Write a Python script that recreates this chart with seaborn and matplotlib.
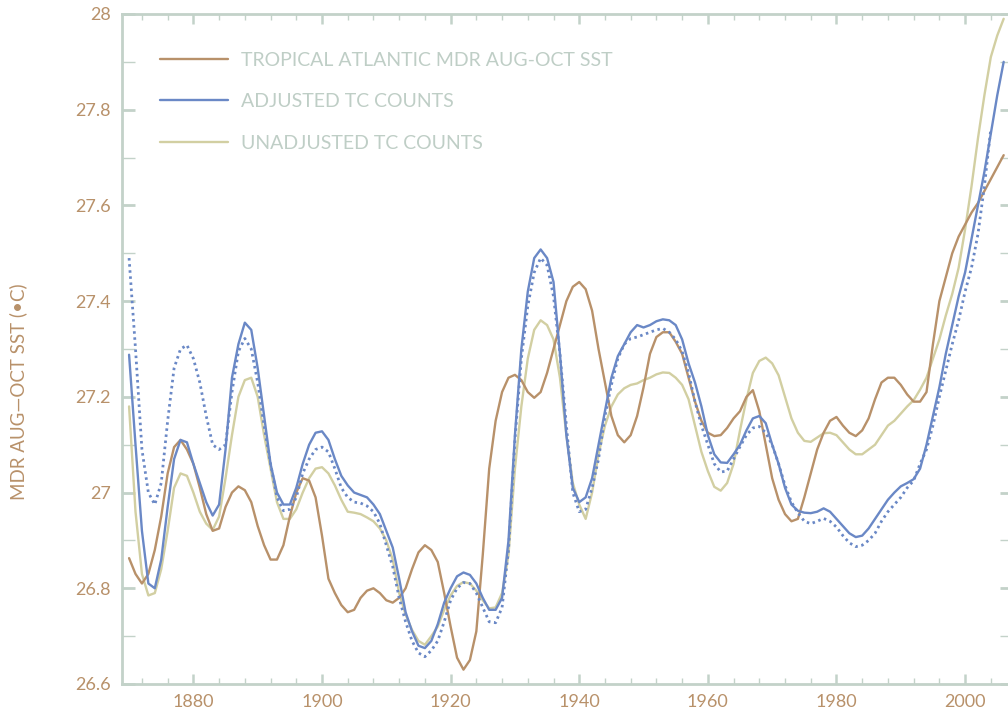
import matplotlib
matplotlib.use("Agg")
import matplotlib.pyplot as plt
import seaborn as sns
from matplotlib.ticker import MultipleLocator, FuncFormatter
from matplotlib.lines import Line2D

# ---------------- data ----------------
years = list(range(1870, 2007))
years_dotted = list(range(1870, 2005))

sst = [
    26.863, 26.83, 26.81, 26.83, 26.88, 26.95, 27.04, 27.095, 27.11, 27.09,
    27.06, 27.01, 26.955, 26.92, 26.925, 26.97, 27.00, 27.013, 27.005, 26.98,
    26.93, 26.89, 26.86, 26.86, 26.89, 26.95, 27.00, 27.03, 27.025, 26.99,
    26.91, 26.82, 26.79, 26.765, 26.75, 26.755, 26.78, 26.795, 26.80, 26.79,
    26.775, 26.77, 26.78, 26.80, 26.84, 26.875, 26.89, 26.88, 26.855, 26.79,
    26.72, 26.655, 26.63, 26.65, 26.71, 26.87, 27.05, 27.15, 27.21, 27.24,
    27.246, 27.235, 27.21, 27.198, 27.21, 27.25, 27.30, 27.35, 27.40, 27.43,
    27.44, 27.425, 27.38, 27.30, 27.23, 27.16, 27.12, 27.105, 27.12, 27.16,
    27.22, 27.29, 27.325, 27.335, 27.335, 27.315, 27.29, 27.24, 27.19, 27.15,
    27.125, 27.118, 27.12, 27.135, 27.155, 27.17, 27.20, 27.214, 27.17, 27.10,
    27.03, 26.985, 26.955, 26.94, 26.945, 26.99, 27.04, 27.09, 27.125, 27.15,
    27.158, 27.14, 27.125, 27.118, 27.13, 27.155, 27.195, 27.23, 27.24, 27.24,
    27.225, 27.205, 27.19, 27.19, 27.21, 27.31, 27.40, 27.45, 27.50, 27.535,
    27.56, 27.585, 27.605, 27.63, 27.655, 27.68, 27.705,
]

adjusted = [
    27.288, 27.10, 26.92, 26.81, 26.80, 26.86, 26.97, 27.07, 27.11, 27.105,
    27.06, 27.02, 26.98, 26.952, 26.975, 27.09, 27.24, 27.31, 27.355, 27.34,
    27.26, 27.16, 27.06, 27.00, 26.975, 26.975, 27.01, 27.06, 27.10, 27.125,
    27.128, 27.11, 27.07, 27.035, 27.015, 27.00, 26.995, 26.99, 26.975, 26.955,
    26.92, 26.885, 26.82, 26.75, 26.71, 26.68, 26.675, 26.69, 26.725, 26.77,
    26.80, 26.825, 26.833, 26.828, 26.81, 26.78, 26.755, 26.755, 26.78, 26.90,
    27.12, 27.30, 27.42, 27.49, 27.508, 27.49, 27.44, 27.29, 27.12, 27.01,
    26.98, 26.99, 27.03, 27.10, 27.17, 27.24, 27.285, 27.31, 27.335, 27.35,
    27.345, 27.35, 27.358, 27.362, 27.36, 27.35, 27.32, 27.27, 27.23, 27.18,
    27.12, 27.08, 27.063, 27.062, 27.08, 27.10, 27.13, 27.155, 27.16, 27.145,
    27.10, 27.06, 27.01, 26.975, 26.962, 26.958, 26.957, 26.96, 26.967, 26.96,
    26.945, 26.93, 26.915, 26.907, 26.91, 26.925, 26.945, 26.965, 26.985, 27.00,
    27.013, 27.02, 27.028, 27.05, 27.10, 27.16, 27.22, 27.29, 27.35, 27.41,
    27.46, 27.53, 27.60, 27.67, 27.75, 27.83, 27.90,
]

adjusted_alt = [
    27.49, 27.30, 27.09, 27.00, 26.975, 27.02, 27.15, 27.26, 27.30, 27.308,
    27.28, 27.23, 27.16, 27.10, 27.09, 27.10, 27.21, 27.295, 27.322, 27.30,
    27.23, 27.14, 27.06, 26.99, 26.962, 26.965, 26.99, 27.04, 27.07, 27.09,
    27.095, 27.085, 27.05, 27.01, 26.99, 26.98, 26.978, 26.972, 26.96, 26.935,
    26.89, 26.845, 26.78, 26.73, 26.69, 26.665, 26.657, 26.67, 26.69, 26.73,
    26.775, 26.80, 26.812, 26.81, 26.79, 26.76, 26.73, 26.728, 26.76, 26.88,
    27.11, 27.28, 27.39, 27.46, 27.49, 27.475, 27.41, 27.29, 27.14, 27.00,
    26.96, 26.965, 27.01, 27.07, 27.16, 27.225, 27.28, 27.31, 27.322, 27.325,
    27.33, 27.335, 27.34, 27.343, 27.335, 27.32, 27.295, 27.25, 27.19, 27.14,
    27.10, 27.06, 27.043, 27.045, 27.07, 27.096, 27.12, 27.135, 27.138, 27.125,
    27.10, 27.06, 27.015, 26.98, 26.958, 26.94, 26.935, 26.94, 26.946, 26.94,
    26.928, 26.91, 26.895, 26.887, 26.89, 26.90, 26.915, 26.94, 26.96, 26.975,
    26.99, 27.01, 27.025, 27.06, 27.09, 27.14, 27.20, 27.255, 27.31, 27.36,
    27.42, 27.47, 27.54, 27.64, 27.76,
]

unadjusted = [
    27.18, 26.96, 26.83, 26.785, 26.79, 26.84, 26.92, 27.01, 27.04, 27.035,
    27.00, 26.96, 26.935, 26.922, 26.95, 27.03, 27.12, 27.20, 27.235, 27.24,
    27.20, 27.12, 27.05, 26.98, 26.945, 26.945, 26.965, 27.00, 27.03, 27.05,
    27.053, 27.04, 27.015, 26.985, 26.96, 26.958, 26.955, 26.948, 26.94, 26.925,
    26.90, 26.86, 26.79, 26.745, 26.713, 26.69, 26.682, 26.70, 26.72, 26.755,
    26.785, 26.805, 26.813, 26.81, 26.795, 26.775, 26.758, 26.76, 26.79, 26.87,
    27.05, 27.18, 27.28, 27.34, 27.36, 27.35, 27.32, 27.24, 27.12, 27.02,
    26.975, 26.945, 27.00, 27.08, 27.14, 27.18, 27.205, 27.218, 27.225, 27.228,
    27.235, 27.24, 27.247, 27.251, 27.25, 27.24, 27.225, 27.195, 27.14, 27.085,
    27.045, 27.012, 27.004, 27.02, 27.06, 27.13, 27.195, 27.25, 27.275, 27.282,
    27.27, 27.245, 27.20, 27.155, 27.125, 27.108, 27.106, 27.115, 27.124, 27.125,
    27.12, 27.105, 27.09, 27.08, 27.08, 27.09, 27.10, 27.12, 27.14, 27.15,
    27.165, 27.18, 27.193, 27.215, 27.24, 27.28, 27.32, 27.37, 27.415, 27.47,
    27.55, 27.64, 27.74, 27.83, 27.91, 27.955, 27.99,
]

series_labels = ["TROPICAL ATLANTIC MDR AUG-OCT SST",
                 "ADJUSTED TC COUNTS",
                 "UNADJUSTED TC COUNTS"]
y_label = "MDR AUG\u2014OCT SST (\u2022C)"
y_ticks = [26.6, 26.8, 27.0, 27.2, 27.4, 27.6, 27.8, 28.0]
x_ticks = [1880, 1900, 1920, 1940, 1960, 1980, 2000]

# ---------------- style ----------------
BROWN = "#b8916a"
BLUE = "#6a88c6"
YELLOW = "#d2cfa2"
AXISC = "#c3d2c9"
LEGTXT = "#bfcec6"

sns.set_style("white")
plt.rcParams["font.family"] = ["Lato", "DejaVu Sans"]

fig = plt.figure(figsize=(10.08, 7.14), dpi=100)
# right edge slightly beyond the canvas (as in the reference)
ax = fig.add_axes([122 / 1008, 30 / 714, 891 / 1008, 670 / 714])

lw = 1.7
common = dict(ax=ax, legend=False, solid_joinstyle="round",
              solid_capstyle="round")
sns.lineplot(x=years, y=unadjusted, color=YELLOW, lw=lw, **common)
sns.lineplot(x=years, y=sst, color=BROWN, lw=lw, **common)
sns.lineplot(x=years_dotted, y=adjusted_alt, ax=ax, color=BLUE, lw=2.0,
             linestyle=(0, (0.9, 1.3)), legend=False)
sns.lineplot(x=years, y=adjusted, color=BLUE, lw=lw, **common)

ax.set_xlim(1868.9, 2007.45)
ax.set_ylim(26.6, 28.0)

ax.xaxis.set_major_locator(MultipleLocator(20))
ax.xaxis.set_minor_locator(MultipleLocator(4))
ax.set_xticks(x_ticks)
ax.set_yticks(y_ticks)
ax.yaxis.set_minor_locator(MultipleLocator(0.1))
ax.yaxis.set_major_formatter(FuncFormatter(lambda v, p: f"{v:g}"))

for side in ["left", "bottom", "top"]:
    ax.spines[side].set_color(AXISC)
    ax.spines[side].set_linewidth(2.0)
ax.spines["right"].set_visible(False)

ax.tick_params(axis="x", which="both", direction="in", top=True, bottom=True,
               color=AXISC, labelcolor=BROWN, labelsize=13, pad=7)
ax.tick_params(axis="x", which="major", length=7.5, width=1.8)
ax.tick_params(axis="x", which="minor", length=4.5, width=1.0)
ax.tick_params(axis="y", which="both", direction="in", left=True, right=True,
               color=AXISC, labelcolor=BROWN, labelsize=13, pad=8, length=9.5)
ax.tick_params(axis="y", which="major", width=2.0)
ax.tick_params(axis="y", which="minor", width=1.0)
ax.set_xlabel("")
ax.set_ylabel("")

fig.text(18 / 1008, 1 - 392 / 714, y_label, rotation=90, ha="center",
         va="center", color=BROWN, fontsize=13.5)

handles = [Line2D([], [], color=BROWN, lw=lw),
           Line2D([], [], color=BLUE, lw=lw),
           Line2D([], [], color=YELLOW, lw=lw)]
leg = ax.legend(handles, series_labels, loc="upper left",
                bbox_to_anchor=(38 / 891, 1 - 38 / 670), frameon=False,
                fontsize=14, handlelength=3.5, handletextpad=0.68,
                labelspacing=1.25, borderpad=0, borderaxespad=0)
for t in leg.get_texts():
    t.set_color(LEGTXT)

fig.savefig("out.png", dpi=100)
